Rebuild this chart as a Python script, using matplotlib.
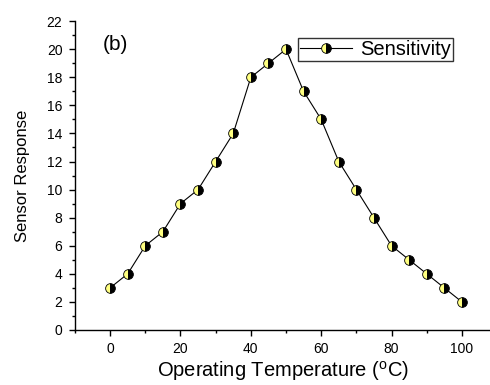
import matplotlib
matplotlib.use("Agg")
import matplotlib.pyplot as plt
from matplotlib.ticker import MultipleLocator

plt.rcParams['font.family'] = ['Liberation Sans', 'DejaVu Sans']

# data
temperature = [0, 5, 10, 15, 20, 25, 30, 35, 40, 45, 50,
               55, 60, 65, 70, 75, 80, 85, 90, 95, 100]
response = [3, 4, 6, 7, 9, 10, 12, 14, 18, 19, 20,
            17, 15, 12, 10, 8, 6, 5, 4, 3, 2]

fig = plt.figure(figsize=(4.9, 3.85), dpi=100)
ax = fig.add_axes([0.153, 0.143, 0.847, 0.802])

ax.plot(temperature, response, color='black', lw=0.8,
        marker='o', markersize=7, fillstyle='left',
        markerfacecolor='#ffff80', markerfacecoloralt='black',
        markeredgecolor='black', markeredgewidth=0.6,
        label='Sensitivity')

ax.set_xlim(-10, 108)
ax.set_ylim(0, 22)
ax.xaxis.set_major_locator(MultipleLocator(20))
ax.xaxis.set_minor_locator(MultipleLocator(10))
ax.yaxis.set_major_locator(MultipleLocator(2))
ax.yaxis.set_minor_locator(MultipleLocator(1))

for side in ('top', 'right'):
    ax.spines[side].set_visible(False)
for side in ('left', 'bottom'):
    ax.spines[side].set_linewidth(1.0)

ax.tick_params(which='major', direction='out', length=4, width=1,
               labelsize=10, pad=5)
ax.tick_params(which='minor', direction='out', length=2.5, width=1)

ax.set_xlabel('Operating Temperature ($\\mathregular{^{o}}$C)',
              fontsize=14.5, labelpad=2)
ax.set_ylabel('Sensor Response', fontsize=12, labelpad=12)

ax.text(0.067, 0.955, '(b)', transform=ax.transAxes, fontsize=15,
        ha='left', va='top')

leg = ax.legend(loc='upper right', bbox_to_anchor=(0.911, 0.945),
                fontsize=14.5, frameon=True, fancybox=False,
                borderpad=0.1, handlelength=2.6, handletextpad=0.4,
                borderaxespad=0)
leg.get_frame().set_edgecolor('black')
leg.get_frame().set_linewidth(1.0)

fig.savefig('out.png', dpi=100)
